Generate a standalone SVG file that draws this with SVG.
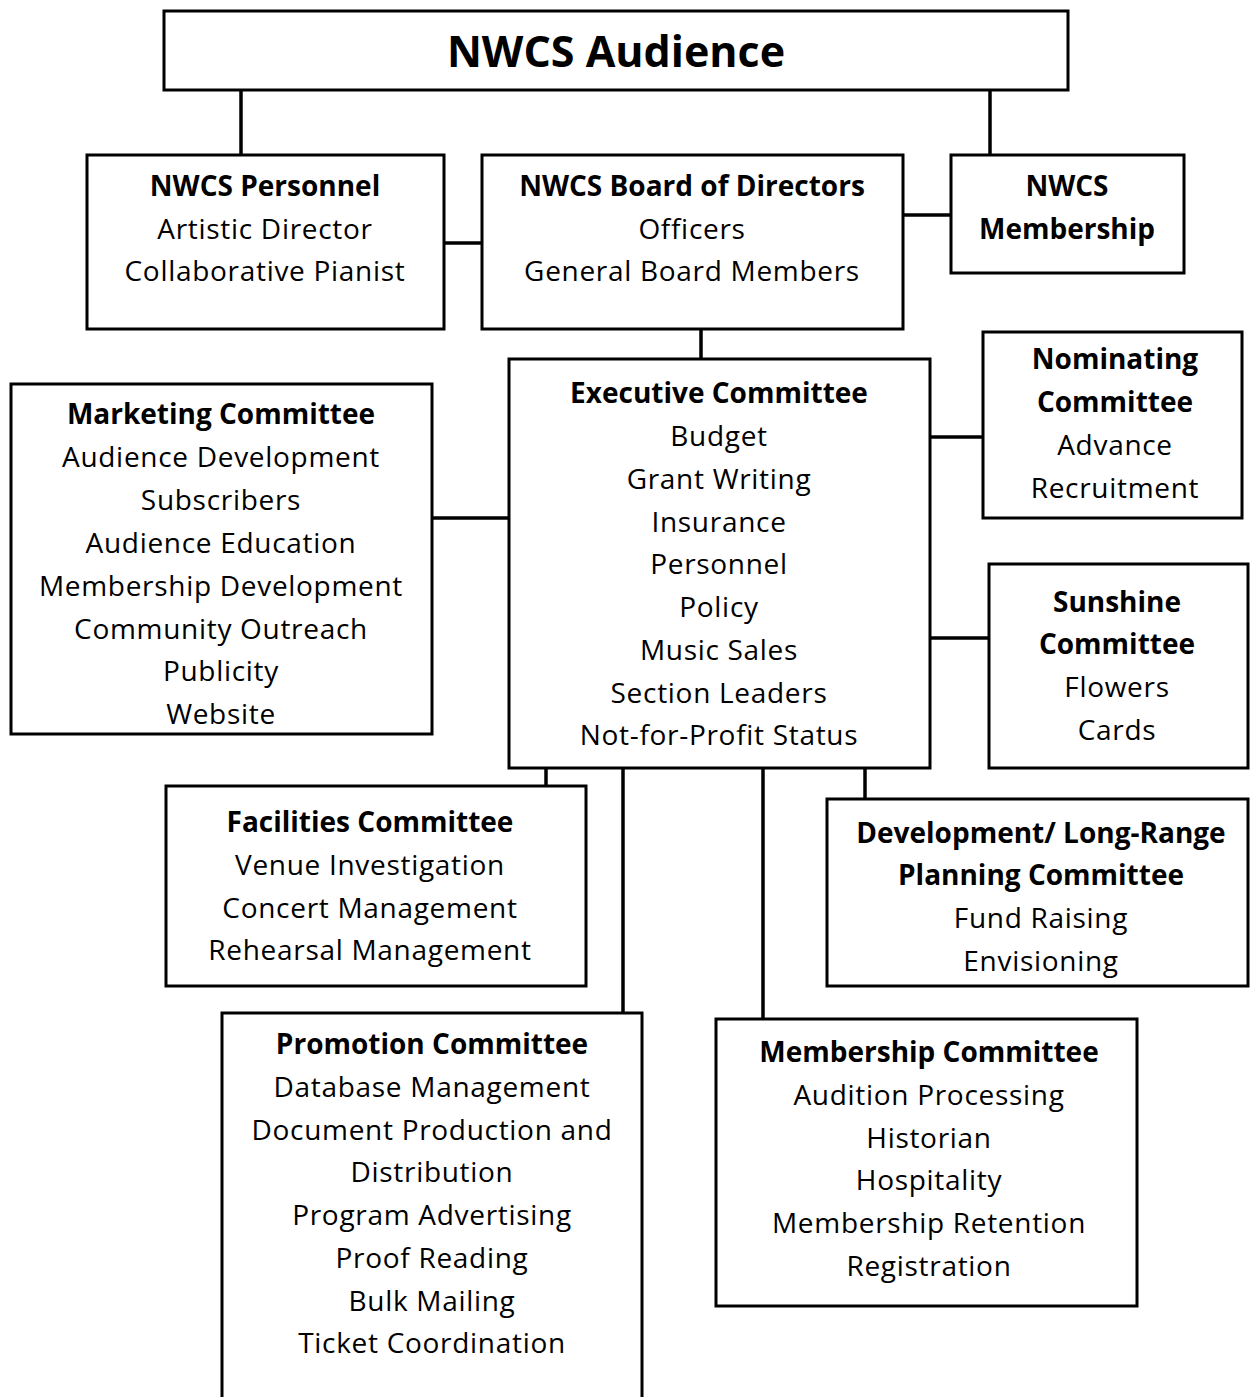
<svg xmlns="http://www.w3.org/2000/svg" width="1251" height="1397" viewBox="0 0 1251 1397">
<style>
rect{fill:#fff;stroke:#000;stroke-width:3}
line{stroke:#000;stroke-width:3.5}
text{font-family:"Open Sans","Noto Sans",sans-serif;font-size:28px;letter-spacing:0.7px;fill:#000;text-anchor:middle}
.b{font-weight:bold;letter-spacing:0}
.t{font-size:43px;font-weight:bold;letter-spacing:0}
</style>
<rect width="1251" height="1397" style="fill:#fff;stroke:none"/>
<g id="connectors">
<line x1="241" y1="90" x2="241" y2="155"/>
<line x1="990" y1="90" x2="990" y2="155"/>
<line x1="444" y1="243" x2="482" y2="243"/>
<line x1="903" y1="215" x2="951" y2="215"/>
<line x1="701" y1="329" x2="701" y2="359"/>
<line x1="432" y1="518" x2="509" y2="518"/>
<line x1="930" y1="437" x2="983" y2="437"/>
<line x1="930" y1="638" x2="989" y2="638"/>
<line x1="546" y1="768" x2="546" y2="786"/>
<line x1="865" y1="768" x2="865" y2="799"/>
<line x1="623" y1="768" x2="623" y2="1013"/>
<line x1="763" y1="768" x2="763" y2="1019"/>
</g>
<g id="audience">
<rect x="164" y="11" width="904" height="79"/>
<text class="t" x="616" y="67">NWCS Audience</text>
</g>
<g id="personnel">
<rect x="87" y="155" width="357" height="174"/>
<text class="b" x="265" y="196">NWCS Personnel</text>
<text x="265" y="239">Artistic Director</text>
<text x="265" y="281">Collaborative Pianist</text>
</g>
<g id="board">
<rect x="482" y="155" width="421" height="174"/>
<text class="b" x="692" y="196">NWCS Board of Directors</text>
<text x="692" y="239">Officers</text>
<text x="692" y="281">General Board Members</text>
</g>
<g id="membership">
<rect x="951" y="155" width="233" height="118"/>
<text class="b" x="1067" y="196">NWCS</text>
<text class="b" x="1067" y="239">Membership</text>
</g>
<g id="executive">
<rect x="509" y="359" width="421" height="409"/>
<text class="b" x="719" y="403">Executive Committee</text>
<text x="719" y="446">Budget</text>
<text x="719" y="489">Grant Writing</text>
<text x="719" y="532">Insurance</text>
<text x="719" y="574">Personnel</text>
<text x="719" y="617">Policy</text>
<text x="719" y="660">Music Sales</text>
<text x="719" y="703">Section Leaders</text>
<text x="719" y="745">Not-for-Profit Status</text>
</g>
<g id="marketing">
<rect x="11" y="384" width="421" height="350"/>
<text class="b" x="221" y="424">Marketing Committee</text>
<text x="221" y="467">Audience Development</text>
<text x="221" y="510">Subscribers</text>
<text x="221" y="553">Audience Education</text>
<text x="221" y="596">Membership Development</text>
<text x="221" y="639">Community Outreach</text>
<text x="221" y="681">Publicity</text>
<text x="221" y="724">Website</text>
</g>
<g id="nominating">
<rect x="983" y="332" width="259" height="186"/>
<text class="b" x="1115" y="369">Nominating</text>
<text class="b" x="1115" y="412">Committee</text>
<text x="1115" y="455">Advance</text>
<text x="1115" y="498">Recruitment</text>
</g>
<g id="sunshine">
<rect x="989" y="564" width="259" height="204"/>
<text class="b" x="1117" y="612">Sunshine</text>
<text class="b" x="1117" y="654">Committee</text>
<text x="1117" y="697">Flowers</text>
<text x="1117" y="740">Cards</text>
</g>
<g id="facilities">
<rect x="166" y="786" width="420" height="200"/>
<text class="b" x="370" y="832">Facilities Committee</text>
<text x="370" y="875">Venue Investigation</text>
<text x="370" y="918">Concert Management</text>
<text x="370" y="960">Rehearsal Management</text>
</g>
<g id="development">
<rect x="827" y="799" width="421" height="187"/>
<text class="b" x="1041" y="843">Development/ Long-Range</text>
<text class="b" x="1041" y="885">Planning Committee</text>
<text x="1041" y="928">Fund Raising</text>
<text x="1041" y="971">Envisioning</text>
</g>
<g id="promotion">
<rect x="222" y="1013" width="420" height="400"/>
<text class="b" x="432" y="1054">Promotion Committee</text>
<text x="432" y="1097">Database Management</text>
<text x="432" y="1140">Document Production and</text>
<text x="432" y="1182">Distribution</text>
<text x="432" y="1225">Program Advertising</text>
<text x="432" y="1268">Proof Reading</text>
<text x="432" y="1311">Bulk Mailing</text>
<text x="432" y="1353">Ticket Coordination</text>
</g>
<g id="membershipcommittee">
<rect x="716" y="1019" width="421" height="287"/>
<text class="b" x="929" y="1062">Membership Committee</text>
<text x="929" y="1105">Audition Processing</text>
<text x="929" y="1148">Historian</text>
<text x="929" y="1190">Hospitality</text>
<text x="929" y="1233">Membership Retention</text>
<text x="929" y="1276">Registration</text>
</g>
</svg>
